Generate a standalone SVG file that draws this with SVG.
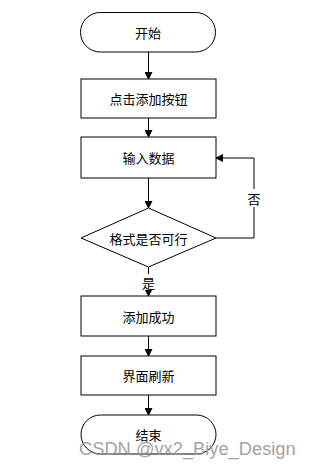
<svg xmlns="http://www.w3.org/2000/svg" width="311" height="468" viewBox="0 0 311 468">
<style>
.s{fill:#fff;stroke:#000;stroke-width:1}
.t{font-family:"Noto Sans CJK SC","Liberation Sans",sans-serif;font-size:13px;fill:#000;text-anchor:middle;dominant-baseline:central}
.c{fill:none;stroke:#000;stroke-width:1}
.wm{font-family:"Liberation Sans",Arial,sans-serif;font-size:18.3px;fill:#9a9a9a;opacity:0.9}
</style>
<defs>
<marker id="a" markerWidth="8" markerHeight="8" refX="7" refY="4" orient="auto" markerUnits="userSpaceOnUse">
<path d="M0,0 L8,4 L0,8 z" fill="#000"/>
</marker>
</defs>
<rect width="311" height="468" fill="#fff"/>
<g id="connectors">
<path class="c" d="M148.5,52 V79" marker-end="url(#a)"/>
<path class="c" d="M148.5,118 V137" marker-end="url(#a)"/>
<path class="c" d="M148.5,178 V208" marker-end="url(#a)"/>
<path class="c" d="M148.5,267 V296" marker-end="url(#a)"/>
<path class="c" d="M216,238 H254 V158 H216" marker-end="url(#a)"/>
<path class="c" d="M148.5,336 V356" marker-end="url(#a)"/>
<path class="c" d="M148.5,395 V415" marker-end="url(#a)"/>
<rect x="246" y="189" width="16" height="18" fill="#fff"/>
<text class="t" x="254" y="198">否</text>
<rect x="140" y="274" width="17" height="16" fill="#fff"/>
<text class="t" x="148.5" y="282">是</text>
</g>
<g id="start"><rect class="s" x="80.5" y="12.5" width="135" height="39.5" rx="19.75"/><text class="t" x="148" y="32">开始</text></g>
<g id="click"><rect class="s" x="81" y="79" width="135" height="39"/><text class="t" x="148.5" y="98.5">点击添加按钮</text></g>
<g id="input"><rect class="s" x="81" y="137" width="135" height="41"/><text class="t" x="148.5" y="157.5">输入数据</text></g>
<g id="check"><path class="s" d="M148.5,208 L216,238 L148.5,267 L81,238 Z"/><text class="t" x="148.5" y="238">格式是否可行</text></g>
<g id="success"><rect class="s" x="81" y="296" width="135" height="40"/><text class="t" x="148.5" y="316">添加成功</text></g>
<g id="refresh"><rect class="s" x="81" y="356" width="135" height="39"/><text class="t" x="148.5" y="375.5">界面刷新</text></g>
<g id="end"><rect class="s" x="81" y="415" width="135" height="39" rx="19.5"/><text class="t" x="148.5" y="434">结束</text></g>
<text class="wm" x="79" y="455">CSDN @vx2_Biye_Design</text>
</svg>
